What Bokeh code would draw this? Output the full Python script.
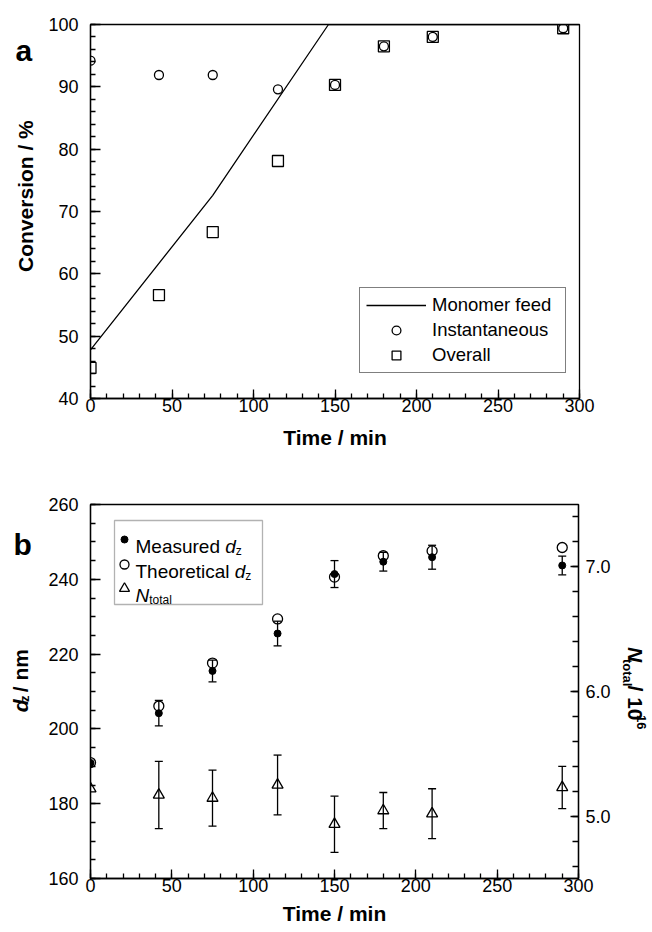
import math
from bokeh.plotting import figure
from bokeh.models import (Range1d, LinearAxis, SingleIntervalTicker, Legend, LegendItem,
                          Whisker, TeeHead, ColumnDataSource, Label, BoxAnnotation,
                          PrintfTickFormatter)
from bokeh.layouts import column, row
from bokeh.embed import file_html
from bokeh.resources import INLINE

FONT = "Liberation Sans"

# ---------------- data: panel a ----------------
time_a = [0, 42, 75, 115, 150, 180, 210, 290]
conv_instantaneous = [94.2, 91.9, 91.9, 89.6, 90.3, 96.5, 98.0, 99.4]
conv_overall = [44.9, 56.6, 66.7, 78.1, 90.3, 96.5, 98.0, 99.4]
feed_time = [0, 75, 146, 300]
feed_conv = [47.8, 72.6, 100.0, 100.0]

# ---------------- data: panel b ----------------
time_b = [0, 42, 75, 115, 150, 180, 210, 290]
dz_measured = [190.9, 204.2, 215.5, 225.5, 241.4, 244.7, 245.9, 243.7]
dz_measured_err = [0, 3.4, 2.9, 3.3, 3.6, 2.5, 3.2, 2.5]
dz_theoretical = [191.0, 206.1, 217.6, 229.4, 240.6, 246.3, 247.6, 248.5]
n_total = [5.22, 5.17, 5.145, 5.25, 4.935, 5.045, 5.02, 5.23]
n_total_err = [0, 0.27, 0.225, 0.24, 0.225, 0.145, 0.2, 0.17]

XR = (0, 300)
YA = (40, 100)
YB = (160, 260)
YB2 = (4.5, 7.5)

# ---------------- page layout (pixels) ----------------
W = 650
STRIP_L = 44            # left strip holding rotated titles and panel letters
H_A = 460               # height of panel a row
H_B = 470               # height of panel b row
FA = dict(l=90, r=579, t=24, b=398)
FB = dict(l=90, r=578, t=504, b=878)
STRIP_R = 614           # page x where the right strip of panel b starts


def to_data(f, yr, px, py):
    x = XR[0] + (px - f["l"]) / (f["r"] - f["l"]) * (XR[1] - XR[0])
    y = yr[0] + (f["b"] - py) / (f["b"] - f["t"]) * (yr[1] - yr[0])
    return x, y


W_REG = {"M": .833, "e": .556, "a": .556, "s": .5, "u": .556, "r": .333, "d": .556,
         " ": .278, "T": .611, "h": .556, "o": .556, "t": .278, "i": .222, "c": .5,
         "l": .222, "N": .722, "z": .5}
W_BOLD = {"d": .611, "z": .5, " ": .278, "/": .278, "n": .611, "m": .889, "N": .722,
          "t": .333, "o": .611, "a": .556, "l": .278, "1": .556, "0": .556, "6": .556}


def width(s, size, bold=False):
    tab = W_BOLD if bold else W_REG
    return sum(tab.get(c, .556) for c in s) * size


def label(p, xy, text, size, style="normal", angle=0.0, align="left", baseline="alphabetic"):
    p.add_layout(Label(x=xy[0], y=xy[1], text=text, text_font=FONT,
                       text_font_size=f"{size}px", text_font_style=style,
                       text_color="black", angle=angle, text_align=align,
                       text_baseline=baseline))


def style_axis(ax, tick_in=10, minor_in=5, standoff=12):
    ax.axis_line_color = "black"
    ax.axis_line_width = 1.3
    ax.major_tick_line_color = "black"
    ax.major_tick_line_width = 1.3
    ax.minor_tick_line_color = "black"
    ax.minor_tick_line_width = 1.3
    ax.major_tick_in = tick_in
    ax.major_tick_out = 0
    ax.minor_tick_in = minor_in
    ax.minor_tick_out = 0
    ax.major_label_text_font = FONT
    ax.major_label_text_font_size = "18px"
    ax.major_label_text_color = "black"
    ax.major_label_standoff = standoff
    ax.axis_label_text_font = FONT
    ax.axis_label_text_font_style = "bold"
    ax.axis_label_text_font_size = "21px"
    ax.axis_label_text_color = "black"


def base_style(p):
    p.xgrid.visible = False
    p.ygrid.visible = False
    p.outline_line_color = "black"
    p.outline_line_width = 1.3
    p.background_fill_color = "white"
    p.border_fill_color = "white"


def strip(w, h, x0, y0):
    """Empty figure whose data coordinates are page pixels (for titles outside frames)."""
    s = figure(width=w, height=h, x_range=Range1d(x0, x0 + w), y_range=Range1d(y0 + h, y0),
               x_axis_type=None, y_axis_type=None, min_border=0,
               output_backend="svg", toolbar_location=None)
    s.outline_line_color = None
    s.background_fill_color = "white"
    s.border_fill_color = "white"
    return s


# ================= panel a =================
p1 = figure(frame_width=FA["r"] - FA["l"], frame_height=FA["b"] - FA["t"],
            min_border_left=FA["l"] - STRIP_L, min_border_right=W - FA["r"],
            min_border_top=FA["t"], min_border_bottom=H_A - FA["b"],
            x_range=Range1d(*XR), y_range=Range1d(*YA),
            output_backend="svg", toolbar_location=None)
base_style(p1)
p1.xaxis[0].ticker = SingleIntervalTicker(interval=50, num_minor_ticks=5)
p1.yaxis[0].ticker = SingleIntervalTicker(interval=10, num_minor_ticks=5)
style_axis(p1.xaxis[0], 9, 5, 0)
style_axis(p1.yaxis[0], 10, 5, 12)
p1.xaxis[0].axis_label = "Time / min"
p1.xaxis[0].axis_label_standoff = 11

r_feed = p1.line(feed_time, feed_conv, line_color="black", line_width=1.3)
r_inst = p1.scatter(time_a, conv_instantaneous, marker="circle", size=9,
                    fill_color=None, line_color="black", line_width=1.3)
r_over = p1.scatter(time_a, conv_overall, marker="square", size=11,
                    fill_color=None, line_color="black", line_width=1.3)

leg = Legend(items=[LegendItem(label="Monomer feed", renderers=[r_feed]),
                    LegendItem(label="Instantaneous", renderers=[r_inst]),
                    LegendItem(label="Overall", renderers=[r_over])],
             location=(269, 25), border_line_color="black", border_line_width=1.3,
             background_fill_color="white", background_fill_alpha=1.0,
             label_text_font=FONT, label_text_font_size="18.5px", label_text_color="black",
             glyph_width=60, glyph_height=22, label_height=22, label_width=127,
             label_standoff=6, padding=6, spacing=3, margin=0)
p1.add_layout(leg)

sa = strip(STRIP_L, H_A, 0, 0)
label(sa, (15, 32), "a", 30, style="bold")
label(sa, (25, (FA["t"] + FA["b"]) / 2), "Conversion / %", 21, style="bold",
      angle=math.pi / 2, align="center", baseline="middle")

# ================= panel b =================
p2 = figure(frame_width=FB["r"] - FB["l"], frame_height=FB["b"] - FB["t"],
            min_border_left=FB["l"] - STRIP_L, min_border_right=STRIP_R - FB["r"],
            min_border_top=FB["t"] - H_A, min_border_bottom=H_A + H_B - FB["b"],
            x_range=Range1d(*XR), y_range=Range1d(*YB),
            output_backend="svg", toolbar_location=None)
base_style(p2)
p2.extra_y_ranges = {"n": Range1d(*YB2)}
p2.xaxis[0].ticker = SingleIntervalTicker(interval=50, num_minor_ticks=5)
p2.yaxis[0].ticker = SingleIntervalTicker(interval=20, num_minor_ticks=4)
style_axis(p2.xaxis[0], 9, 5, 0)
style_axis(p2.yaxis[0], 10, 5, 12)
p2.xaxis[0].axis_label = "Time / min"
p2.xaxis[0].axis_label_standoff = 7

rax = LinearAxis(y_range_name="n",
                 ticker=SingleIntervalTicker(interval=1, num_minor_ticks=5),
                 formatter=PrintfTickFormatter(format="%.1f"))
style_axis(rax, 8, 6, 7)
p2.add_layout(rax, "right")

# error bars
ib = [i for i, e in enumerate(dz_measured_err) if e > 0]
src_dz = ColumnDataSource(dict(x=[time_b[i] for i in ib],
                               lo=[dz_measured[i] - dz_measured_err[i] for i in ib],
                               hi=[dz_measured[i] + dz_measured_err[i] for i in ib]))
inn = [i for i, e in enumerate(n_total_err) if e > 0]
src_n = ColumnDataSource(dict(x=[time_b[i] for i in inn],
                              lo=[n_total[i] - n_total_err[i] for i in inn],
                              hi=[n_total[i] + n_total_err[i] for i in inn]))


def tee():
    return TeeHead(size=8, line_color="black", line_width=1.3)


p2.add_layout(Whisker(source=src_dz, base="x", lower="lo", upper="hi", dimension="height",
                      line_color="black", line_width=1.3, upper_head=tee(), lower_head=tee()))
p2.add_layout(Whisker(source=src_n, base="x", lower="lo", upper="hi", dimension="height",
                      y_range_name="n", line_color="black", line_width=1.3,
                      upper_head=tee(), lower_head=tee()))

p2.scatter(time_b, dz_theoretical, marker="circle", size=10, fill_color=None,
           line_color="black", line_width=1.3)
p2.scatter(time_b, dz_measured, marker="circle", size=7, fill_color="black",
           line_color="black", line_width=1)
p2.scatter(time_b, n_total, marker="triangle", size=11, fill_color=None,
           line_color="black", line_width=1.3, y_range_name="n")

# legend of panel b (drawn by hand for italic / subscript text)
bl, bt = to_data(FB, YB, 114, 520)
br, bb = to_data(FB, YB, 262, 604)
p2.add_layout(BoxAnnotation(left=bl, right=br, top=bt, bottom=bb, fill_color="white",
                            fill_alpha=1.0, line_color="black", line_width=1.3,
                            level="annotation"))
LS = 19
SUB = 12
mx = 124
tx = 135
rows = [539, 564, 588]
lx, ly0 = to_data(FB, YB, mx, rows[0])
_, ly1 = to_data(FB, YB, mx, rows[1])
_, ly2 = to_data(FB, YB, mx, rows[2])
p2.scatter([lx], [ly0], marker="circle", size=7, fill_color="black", line_color="black",
           level="overlay")
p2.scatter([lx], [ly1], marker="circle", size=9, fill_color=None, line_color="black",
           line_width=1.3, level="overlay")
p2.scatter([lx], [ly2], marker="triangle", size=10, fill_color=None, line_color="black",
           line_width=1.3, level="overlay")

for rw, word in ((rows[0], "Measured"), (rows[1], "Theoretical")):
    base = rw + 7
    label(p2, to_data(FB, YB, tx, base), word, LS)
    xd = tx + width(word + " ", LS)
    label(p2, to_data(FB, YB, xd, base), "d", LS, style="italic")
    label(p2, to_data(FB, YB, xd + width("d", LS), base + 4), "z", SUB)
base = rows[2] + 7
label(p2, to_data(FB, YB, tx, base), "N", LS, style="italic")
label(p2, to_data(FB, YB, tx + width("N", LS), base + 4), "total", SUB)

# left strip of panel b: letter and rotated title d_z / nm
sbl = strip(STRIP_L, H_B, 0, H_A)
label(sbl, (13, 510), "b", 30, style="bold")
AX = 21
AS = 13
up = math.pi / 2
mid = 20            # page x of the title's centre line
y0 = 721
label(sbl, (mid, y0), "d", AX, style="bold italic", angle=up, baseline="middle")
y1 = y0 - width("d", AX, True)
label(sbl, (mid + 4, y1), "z", AS, style="bold", angle=up, baseline="middle")
y2 = y1 - width("z", AS, True) - width(" ", AX, True)
label(sbl, (mid, y2), "/ nm", AX, style="bold", angle=up, baseline="middle")

# right strip of panel b: rotated title N_total / 10^16
sbr = strip(W - STRIP_R, H_B, STRIP_R, H_A)
down = -math.pi / 2
rmid = 635
yy = 639
label(sbr, (rmid, yy), "N", AX, style="bold italic", angle=down, baseline="middle")
yy += width("N", AX, True)
label(sbr, (rmid - 8, yy), "total", AS, style="bold", angle=down, baseline="middle")
yy += width("total", AS, True) + width(" ", AX, True)
label(sbr, (rmid, yy), "/ 10", AX, style="bold", angle=down, baseline="middle")
yy += width("/ 10", AX, True) + 2
label(sbr, (rmid + 6, yy), "16", AS, style="bold", angle=down, baseline="middle")

layout = column(row(sa, p1), row(sbl, p2, sbr))
open("out.html", "w").write(file_html(layout, INLINE))
